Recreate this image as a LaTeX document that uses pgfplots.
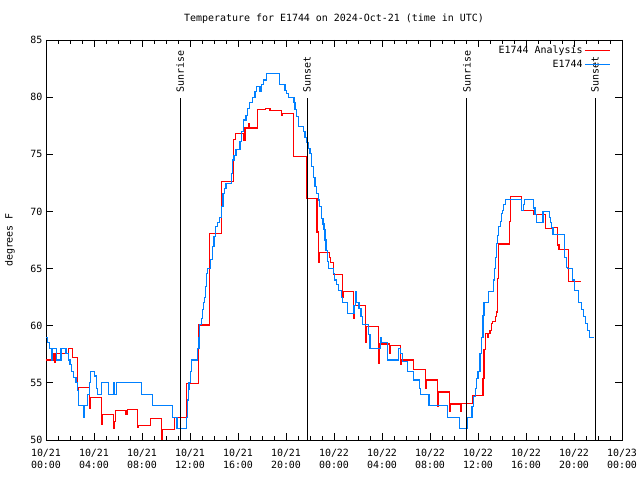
\documentclass[border=0pt]{standalone}
\usepackage{pgfplots}
\pgfplotsset{compat=1.18}
\usepackage{fontspec}
\setmainfont{DejaVu Sans Mono}
\definecolor{obsblue}{RGB}{0,128,255}
\begin{document}
\fontsize{10}{11.5}\selectfont
\begin{tikzpicture}
\useasboundingbox (-46bp,-40bp) rectangle (594bp,440bp);
\begin{axis}[
    at={(0,0)}, anchor=south west,
    scale only axis,
    width=576bp, height=400bp,
    xmin=0, xmax=48, ymin=50, ymax=85,
    xtick={0,4,...,48},
    xticklabels={10/21\\00:00,10/21\\04:00,10/21\\08:00,10/21\\12:00,10/21\\16:00,10/21\\20:00,10/22\\00:00,10/22\\04:00,10/22\\08:00,10/22\\12:00,10/22\\16:00,10/22\\20:00,10/23\\00:00},
    xticklabel style={align=center, yshift=-6bp},
    minor x tick num=3,
    ytick={50,55,...,85},
    major tick length=7bp, minor tick length=4bp,
    tick style={black, line width=0.8bp},
    axis line style={line width=0.8bp},
    /pgf/number format/assume math mode=true,
    title={Temperature for E1744 on 2024-Oct-21 (time in UTC)},
    every axis title/.style={at={(axis description cs:0.5,1)}, anchor=center, yshift=21bp},
    ylabel={degrees F},
    every axis y label/.style={at={(axis description cs:-0.0625,0.5)}, rotate=90, anchor=center},
    legend style={at={(rel axis cs:0.985,0.995)}, anchor=north east, draw=none, fill=none,
        row sep=2bp, nodes={inner sep=1.5bp}},
    legend cell align=right,
    legend plot pos=right,
    legend image code/.code={\draw[#1] (0bp,0bp) -- (25bp,0bp);},
    clip=true,
]
\addplot[red, line width=1.1bp, const plot] coordinates {
(0,57.0) (0.61,57.6) (0.72,56.8) (0.8,57.6) (1.86,58.0) (2.2,57.2) (2.6,54.4) (2.68,54.6)
(3.6,52.8) (3.7,53.7) (4.6,51.4) (4.68,52.2) (5.62,51.0) (5.72,51.6) (5.8,52.6) (6.67,52.2)
(6.78,52.7) (7.6,51.1) (7.68,51.3) (8.72,51.9) (9.66,50.0) (9.74,50.9) (10.72,52.0)
(11.68,54.96) (12.7,60.06) (13.61,64.15) (13.66,68.1) (14.64,72.6) (15.62,76.3) (15.8,76.8)
(16.48,76.2) (16.58,77.3) (16.88,77.7) (16.98,77.3) (17.65,78.9) (18.3,79.0) (18.67,78.8)
(19.66,78.4) (19.74,78.6) (20.66,74.8) (21.68,71.1) (22.58,68.2) (22.68,65.5) (22.75,66.4)
(23.62,66.0) (23.72,65.5) (23.95,64.5) (24.68,62.5) (24.76,63.0) (25.62,60.6) (25.7,61.8)
(26.64,58.5) (26.72,59.9) (27.68,56.7) (27.76,58.4) (28.66,57.6) (28.72,58.3) (29.55,56.6)
(29.63,57.0) (30.62,56.2) (31.6,54.5) (31.68,55.25) (32.62,52.9) (32.7,54.2) (33.6,52.5)
(33.68,53.15) (34.52,52.5) (34.6,53.2) (35.55,53.9) (36.42,55.4) (36.5,57.9) (36.6,59.3)
(36.82,59.0) (36.9,59.3) (37.0,59.6) (37.1,60.2) (37.2,60.35) (37.45,60.8) (37.55,61.2)
(37.65,64.15) (37.72,67.15) (38.6,69.1) (38.7,71.3) (39.62,70.07) (40.65,69.7) (41.62,68.5)
(42.2,68.6) (42.62,67.06) (42.75,66.7) (43.55,63.85) (44.55,63.85)
};
\addlegendentry{E1744 Analysis}
\addplot[obsblue, line width=1.1bp, const plot] coordinates {
(0,59.0) (0.15,58.5) (0.3,58.0) (0.47,57.0) (0.56,58.0) (0.89,57.0) (1.25,58.0) (1.67,57.6)
(1.86,57.0) (2.0,56.6) (2.14,56.0) (2.28,55.5) (2.5,55.0) (2.6,54.3) (2.72,53.0) (3.1,52.0)
(3.22,53.0) (3.45,54.0) (3.6,55.0) (3.72,56.0) (4.05,55.6) (4.18,54.5) (4.28,54.0) (4.62,55.0)
(5.18,54.0) (5.6,55.0) (5.7,54.0) (5.9,55.0) (7.95,54.0) (8.85,53.0) (10.56,52.0) (10.92,51.0)
(11.72,52.0) (11.78,53.5) (11.86,54.4) (11.92,55.0) (12.05,56.0) (12.14,57.0) (12.66,58.0)
(12.75,59.0) (12.82,60.1) (12.95,60.6) (13.05,61.4) (13.14,62.0) (13.2,62.5) (13.28,63.4)
(13.4,64.6) (13.47,65.0) (13.7,65.8) (13.85,66.9) (14.0,67.8) (14.15,68.7) (14.3,69.0)
(14.45,69.5) (14.6,70.4) (14.75,71.6) (14.9,72.0) (15.0,72.45) (15.47,73.3) (15.56,74.5)
(15.67,74.9) (15.83,75.4) (16.17,76.1) (16.3,77.0) (16.44,78.0) (16.67,78.4) (16.78,79.0)
(16.94,79.5) (17.22,80.0) (17.42,80.5) (17.56,80.9) (17.83,80.5) (17.97,81.1) (18.1,81.5)
(18.39,82.1) (19.44,81.1) (19.92,80.6) (20.06,80.3) (20.19,80.0) (20.67,79.5) (20.75,78.9)
(20.89,78.3) (21.03,77.4) (21.44,77.0) (21.58,76.5) (21.72,76.0) (21.85,75.5) (22.0,75.1)
(22.14,73.9) (22.28,73.0) (22.42,72.2) (22.56,71.6) (22.7,71.0) (22.78,70.4) (22.97,69.4)
(23.08,68.9) (23.17,68.4) (23.25,67.5) (23.33,66.6) (23.44,65.6) (23.53,65.0) (23.94,64.6)
(24.03,64.0) (24.22,63.6) (24.36,63.1) (24.64,62.5) (24.72,62.0) (25.1,61.1) (25.67,61.8)
(25.78,63.0) (25.86,62.0) (26.08,61.5) (26.25,60.8) (26.39,60.1) (26.86,59.2) (27.0,58.0)
(27.88,59.0) (27.97,58.5) (28.44,57.0) (29.35,58.0) (29.55,57.6) (29.7,56.9) (30.1,56.0)
(30.62,55.25) (31.1,54.5) (31.2,54.0) (31.92,53.0) (33.47,52.0) (34.47,51.0) (35.08,52.0)
(35.5,52.9) (35.65,53.8) (35.78,54.5) (35.9,55.4) (36.0,56.0) (36.17,57.6) (36.3,59.0)
(36.42,60.9) (36.5,62.0) (36.9,63.0) (37.3,64.0) (37.38,65.0) (37.47,66.0) (37.56,67.2)
(37.65,67.9) (37.73,68.7) (37.85,69.1) (37.95,69.8) (38.05,70.1) (38.15,70.6) (38.3,71.06)
(39.62,70.07) (39.8,70.6) (39.9,71.06) (40.62,70.3) (40.75,69.7) (40.85,69.05) (41.42,70.0)
(41.95,69.5) (42.05,69.05) (42.15,68.6) (42.25,68.0) (43.2,66.0) (43.35,65.1) (43.47,65.0)
(43.9,64.0) (44.05,63.1) (44.35,62.0) (44.6,61.4) (44.8,60.8) (44.98,60.2) (45.15,59.6)
(45.3,59.0) (45.66,59.0)
};
\addlegendentry{E1744}
% sunrise / sunset markers
\addplot[black, line width=1bp, forget plot] coordinates {(11.17,50) (11.17,79.9)};
\addplot[black, line width=1bp, forget plot] coordinates {(21.75,50) (21.75,79.9)};
\addplot[black, line width=1bp, forget plot] coordinates {(35.08,50) (35.08,79.9)};
\addplot[black, line width=1bp, forget plot] coordinates {(45.75,50) (45.75,79.9)};
\node[rotate=90, anchor=west, inner sep=1bp] at (axis cs:11.17,80.3) {Sunrise};
\node[rotate=90, anchor=west, inner sep=1bp] at (axis cs:21.75,80.3) {Sunset};
\node[rotate=90, anchor=west, inner sep=1bp] at (axis cs:35.08,80.3) {Sunrise};
\node[rotate=90, anchor=west, inner sep=1bp] at (axis cs:45.75,80.3) {Sunset};
\end{axis}
\end{tikzpicture}
\end{document}
